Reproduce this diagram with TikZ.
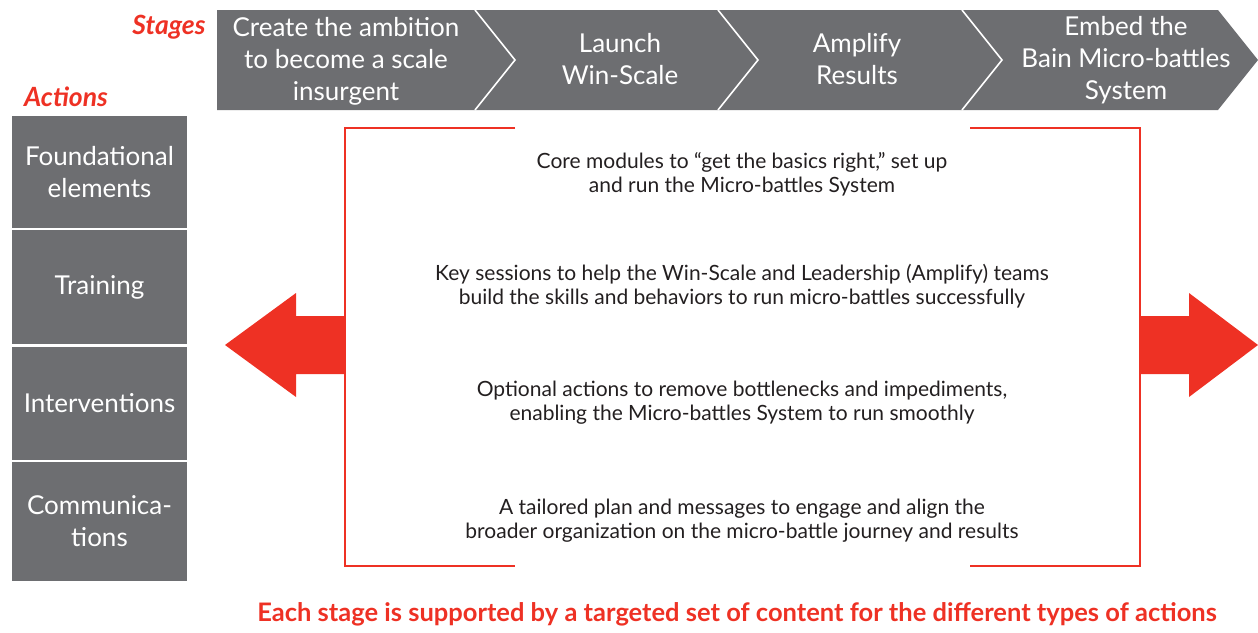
\documentclass[tikz,border=0pt]{standalone}
\usepackage{fontspec}
\setmainfont{Lato}
\definecolor{bainred}{HTML}{EE3124}
\definecolor{baingray}{HTML}{6D6E71}
\definecolor{bodytext}{HTML}{231F20}
\tikzset{
  stagetext/.style={text=white, align=center, font=\fontsize{26}{32}\selectfont},
  actbox/.style={fill=baingray, text=white, align=center, minimum width=175pt,
    inner sep=0pt, font=\fontsize{26}{32}\selectfont},
  heading/.style={text=bainred, font=\fontsize{26.5}{28}\selectfont\bfseries\itshape},
  bodynote/.style={text=bodytext, align=center, font=\fontsize{21}{24}\selectfont},
  redline/.style={draw=bainred, line width=2.2pt}
}
\begin{document}
\begin{tikzpicture}[x=1pt,y=-1pt]
  \useasboundingbox (0,0) rectangle (1258,632);
  \fill[baingray] (217,10) -- (1218,10) -- (1258,60) -- (1218,110) -- (217,110) -- cycle;
  \foreach \x in {475,718,962}{
    \draw[white, line width=1.6pt] (\x,10) -- (\x+40,60) -- (\x,110);
  }
  \node[stagetext] (s1) at (346,61) {Create the ambition\\to become a scale\\insurgent};
  \node[stagetext] (s2) at (620,59) {Launch\\Win-Scale};
  \node[stagetext] (s3) at (857,59) {Amplify\\Results};
  \node[stagetext] (s4) at (1126,60) {Embed the\\Bain Micro-battles\\System};
  \node[heading, anchor=east] (stages) at (209,27) {Stages};
  \node[heading] (actions) at (66,97) {Actions};

  \foreach \n/\y/\h/\t in {a1/172/112/{Foundational\\elements},
                           a2/287/114/Training,
                           a3/403/113/Interventions,
                           a4/521/119/{Communica-\\tions}}{
    \node[actbox, minimum height=\h pt] (\n) at (99.5,\y) {\t};
  }

  \coordinate (tl) at (345,128);
  \coordinate (tr) at (1140,128);
  \coordinate (bl) at (345,566);
  \coordinate (br) at (1140,566);
  \draw[redline] ([xshift=170pt]tl) -- (tl) -- (bl) -- ([xshift=170pt]bl);
  \draw[redline] ([xshift=-170pt]tr) -- (tr) -- (br) -- ([xshift=-170pt]br);

  \fill[bainred] (345,316) -- (296,316) -- (296,293) -- (225,345) -- (296,397) -- (296,374) -- (345,374) -- cycle;
  \fill[bainred] (1140,316) -- (1189,316) -- (1189,293) -- (1258,345) -- (1189,397) -- (1189,374) -- (1140,374) -- cycle;

  \node[bodynote] (t1) at (742,174) {Core modules to ``get the basics right,'' set up\\and run the Micro-battles System};
  \node[bodynote] (t2) at (742,286) {Key sessions to help the Win-Scale and Leadership (Amplify) teams\\build the skills and behaviors to run micro-battles successfully};
  \node[bodynote] (t3) at (742,403) {Optional actions to remove bottlenecks and impediments,\\enabling the Micro-battles System to run smoothly};
  \node[bodynote] (t4) at (742,521) {A tailored plan and messages to engage and align the\\broader organization on the micro-battle journey and results};

  \node[text=bainred, font=\fontsize{25.5}{28}\selectfont\bfseries] (summary) at (737,614)
    {Each stage is supported by a targeted set of content for the different types of actions};
\end{tikzpicture}
\end{document}
